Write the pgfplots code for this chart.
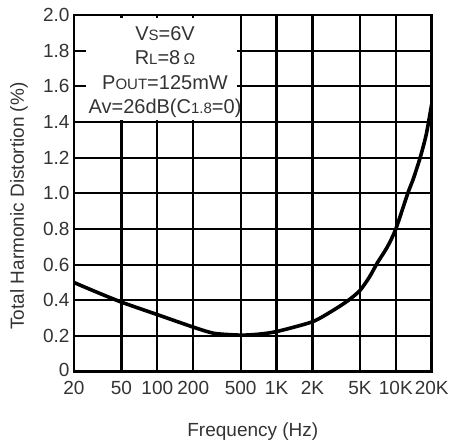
\documentclass[border=0pt]{standalone}
\usepackage{fontspec}
\setmainfont{Liberation Sans}
\usepackage{pgfplots}
\pgfplotsset{compat=1.18}

\definecolor{txt}{gray}{0.2}
\newcommand{\sm}[1]{{\fontsize{15}{15}\selectfont #1}}

\begin{document}
\begin{tikzpicture}
\begin{axis}[
  scale only axis,
  width=357.7pt, height=356.7pt,
  xmode=log,
  xmin=20, xmax=20000, ymin=0, ymax=2,
  xtick={20,50,100,200,500,1000,2000,5000,10000,20000},
  xticklabels={20,50,100,200,500,1K,2K,5K,10K,20K},
  ytick={0,0.2,0.4,0.6,0.8,1.0,1.2,1.4,1.6,1.8,2.0},
  yticklabels={\raisebox{4pt}{0},0.2,0.4,0.6,0.8,1.0,1.2,1.4,1.6,1.8,\raisebox{-5pt}{2.0}},
  xminorticks=false, xminorgrids=false,
  grid=major,
  major grid style={black, line width=2.2pt},
  axis line style={black, line width=2.6pt},
  major tick length=0pt,
  tick style={draw=none},
  ticklabel style={font=\fontsize{19}{19}\selectfont, text=txt},
  xticklabel style={yshift=-6pt},
  yticklabel style={xshift=-1pt},
  xlabel={Frequency (Hz)},
  xlabel style={font=\fontsize{19}{19}\selectfont, text=txt,
    at={(rel axis cs:0.5,0)}, anchor=base, yshift=-65.3pt},
  ylabel={Total Harmonic Distortion (\%)},
  ylabel style={font=\fontsize{19}{19}\selectfont, text=txt,
    at={([xshift=-55pt]rel axis cs:0,0.4645)}, anchor=center},
]
  % white panel behind the test conditions
  \fill[white] (axis cs:25.2,1.41) rectangle (axis cs:470,1.985);
  \node[align=center, text=txt, font=\fontsize{20}{24.2}\selectfont]
    at (axis cs:116,1.68)
    {V\sm{S}=6V\\
     R\sm{L}=8\,{\fontsize{15.5}{15.5}\selectfont Ω}\\
     P\sm{OUT}=125mW\\
     Av=26dB(C\sm{1.8}=0)};

  % THD versus frequency
  \addplot[black, line width=3.6pt, smooth, tension=0.4] coordinates {
    (20,0.50) (30,0.45) (50,0.39) (100,0.32) (200,0.25) (300,0.215)
    (500,0.205) (700,0.21) (1000,0.225) (2000,0.28) (3000,0.345)
    (4000,0.40) (5000,0.455) (6000,0.53) (7000,0.61) (8500,0.70)
    (10000,0.80) (12600,1.0) (14000,1.08) (16000,1.2) (18000,1.33)
    (20000,1.5)
  };
\end{axis}
\pgfresetboundingbox
\useasboundingbox (-74pt,-72.3pt) rectangle (377pt,371.7pt);
\end{tikzpicture}
\end{document}
